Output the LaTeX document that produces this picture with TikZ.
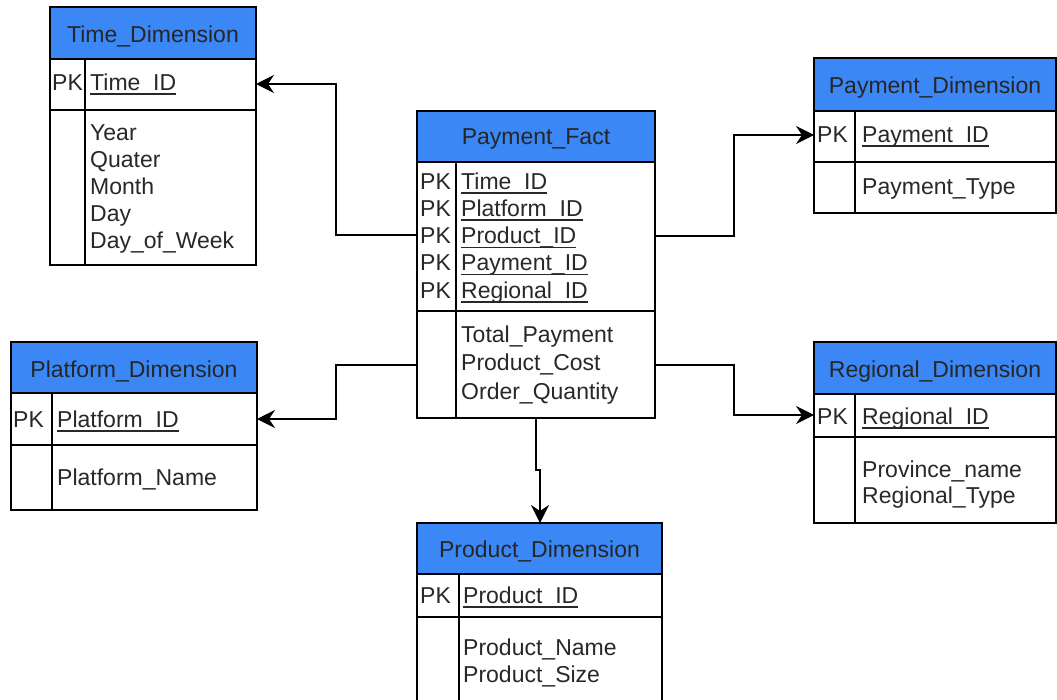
\documentclass[tikz,border=0pt]{standalone}
\usepackage{fontspec}
\setmainfont{Liberation Sans}
\usetikzlibrary{arrows.meta}
\definecolor{hdrblue}{RGB}{58,135,245}
\definecolor{txt}{RGB}{40,40,40}
\newcommand\fs{\fontsize{23pt}{27pt}\selectfont}
\newcommand\ulx[1]{\setbox0\hbox{#1}\rlap{\rule[-4.5pt]{\wd0}{1.4pt}}\box0}
\tikzset{
  tbl/.style={draw=black, line width=2pt, fill=white, inner sep=0pt, outer sep=0pt, anchor=north west},
  hdr/.style={fill=hdrblue, draw=black, line width=2pt},
  sepline/.style={draw=black, line width=1.8pt},
  conn/.style={draw=black, line width=2pt, -{Stealth[length=18pt,width=18pt,inset=6pt]}},
  lbl/.style={anchor=base west, inner sep=0pt, text=txt, font=\fs},
  hlbl/.style={anchor=base, inner sep=0pt, text=black!85, font=\fs},
}
\begin{document}
\begin{tikzpicture}[x=1pt,y=-1pt]
\useasboundingbox (0,0) rectangle (1057,699);
\fill[white] (0,0) rectangle (1057,699);
\begin{scope}
\clip (0,0) rectangle (1057,699);
% ---------- Time_Dimension ----------
\node[tbl, minimum width=206pt, minimum height=258pt] (time) at (50,7) {};
\draw[hdr] (50,7) rectangle (256,59);
\draw[sepline] (50,110) -- (256,110);
\draw[sepline] (85,59) -- (85,265);
\node[hlbl] (time-h) at (153,42) {Time\_Dimension};
\node[lbl] (time-pk) at (52,90) {PK};
\node[lbl] (time-id) at (90,90) {\ulx{Time\_ID}};
\node[lbl] (time-a1) at (90,140) {Year};
\node[lbl] (time-a2) at (90,167) {Quater};
\node[lbl] (time-a3) at (90,194) {Month};
\node[lbl] (time-a4) at (90,221) {Day};
\node[lbl] (time-a5) at (90,248) {Day\_of\_Week};
% ---------- Payment_Fact ----------
\node[tbl, minimum width=238pt, minimum height=307pt] (fact) at (417,111) {};
\draw[hdr] (417,111) rectangle (655,162);
\draw[sepline] (417,311) -- (655,311);
\draw[sepline] (456,162) -- (456,418);
\node[hlbl] (fact-h) at (536,144) {Payment\_Fact};
\node[lbl] (fact-pk1) at (420,189) {PK};
\node[lbl] (fact-pk2) at (420,216.3) {PK};
\node[lbl] (fact-pk3) at (420,243.5) {PK};
\node[lbl] (fact-pk4) at (420,270.8) {PK};
\node[lbl] (fact-pk5) at (420,298) {PK};
\node[lbl] (fact-k1) at (461,189) {\ulx{Time\_ID}};
\node[lbl] (fact-k2) at (461,216.3) {\ulx{Platform\_ID}};
\node[lbl] (fact-k3) at (461,243.5) {\ulx{Product\_ID}};
\node[lbl] (fact-k4) at (461,270.8) {\ulx{Payment\_ID}};
\node[lbl] (fact-k5) at (461,298) {\ulx{Regional\_ID}};
\node[lbl] (fact-a1) at (461,342) {Total\_Payment};
\node[lbl] (fact-a2) at (461,370.5) {Product\_Cost};
\node[lbl] (fact-a3) at (461,399) {Order\_Quantity};
% ---------- Payment_Dimension ----------
\node[tbl, minimum width=242pt, minimum height=155pt] (pay) at (814,58) {};
\draw[hdr] (814,58) rectangle (1056,111);
\draw[sepline] (814,162) -- (1056,162);
\draw[sepline] (855,111) -- (855,213);
\node[hlbl] (pay-h) at (935,93) {Payment\_Dimension};
\node[lbl] (pay-pk) at (817,142) {PK};
\node[lbl] (pay-id) at (862,142) {\ulx{Payment\_ID}};
\node[lbl] (pay-a1) at (862,194) {Payment\_Type};
% ---------- Platform_Dimension ----------
\node[tbl, minimum width=246pt, minimum height=168pt] (plat) at (11,342) {};
\draw[hdr] (11,342) rectangle (257,393);
\draw[sepline] (11,445) -- (257,445);
\draw[sepline] (52,393) -- (52,510);
\node[hlbl] (plat-h) at (134,377) {Platform\_Dimension};
\node[lbl] (plat-pk) at (13,427) {PK};
\node[lbl] (plat-id) at (57,427) {\ulx{Platform\_ID}};
\node[lbl] (plat-a1) at (57,485) {Platform\_Name};
% ---------- Regional_Dimension ----------
\node[tbl, minimum width=242pt, minimum height=181pt] (reg) at (814,342) {};
\draw[hdr] (814,342) rectangle (1056,394);
\draw[sepline] (814,437) -- (1056,437);
\draw[sepline] (855,394) -- (855,523);
\node[hlbl] (reg-h) at (935,377) {Regional\_Dimension};
\node[lbl] (reg-pk) at (817,424) {PK};
\node[lbl] (reg-id) at (862,424) {\ulx{Regional\_ID}};
\node[lbl] (reg-a1) at (862,477) {Province\_name};
\node[lbl] (reg-a2) at (862,503.5) {Regional\_Type};
% ---------- Product_Dimension ----------
\node[tbl, minimum width=245pt, minimum height=200pt] (prod) at (417,523) {};
\draw[hdr] (417,523) rectangle (662,574);
\draw[sepline] (417,617) -- (662,617);
\draw[sepline] (459,574) -- (459,723);
\node[hlbl] (prod-h) at (539.5,557) {Product\_Dimension};
\node[lbl] (prod-pk) at (420,603) {PK};
\node[lbl] (prod-id) at (463,603) {\ulx{Product\_ID}};
\node[lbl] (prod-a1) at (463,655) {Product\_Name};
\node[lbl] (prod-a2) at (463,682) {Product\_Size};
% ---------- connectors ----------
\draw[conn] (fact.west |- 0,235) -- (336,235) |- (time.east |- 0,84);
\draw[conn] (fact.west |- 0,365) -- (336,365) |- (plat.east |- 0,419);
\draw[conn] (fact.east |- 0,236) -- (734,236) |- (pay.west |- 0,135);
\draw[conn] (fact.east |- 0,365) -- (734,365) |- (reg.west |- 0,415);
\draw[conn] (fact.south -| 536,0) -- (536,470) -- (540,470) -- (prod.north -| 540,0);
\end{scope}
\end{tikzpicture}
\end{document}
